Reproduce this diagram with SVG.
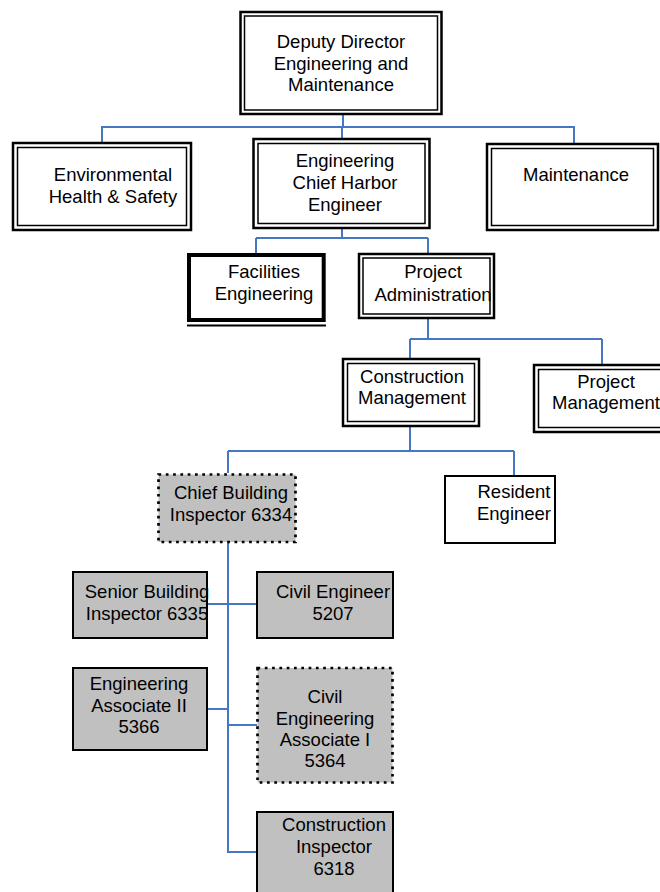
<svg xmlns="http://www.w3.org/2000/svg" width="660" height="892" viewBox="0 0 660 892">
<style>
.o{fill:#fff;stroke:#000;stroke-width:2.5}
.i{fill:none;stroke:#000;stroke-width:1.5}
.g{fill:#c0c0c0;stroke:#000;stroke-width:2}
.d{fill:#c0c0c0;stroke:#000;stroke-width:2.7;stroke-dasharray:2.7 4.6}
.s{fill:#fff;stroke:#000;stroke-width:2}
text{font-family:"Liberation Sans",Arial,sans-serif;font-size:18.5px;fill:#000;text-anchor:middle}
.c{fill:none;stroke:#4577c3;stroke-width:2}
</style>
<g id="connectors">
<path class="c" d="M343,115V127M101,127H575M102,127V142M342,127V138M574,127V143"/>
<path class="c" d="M342,229V238M256,238H428M256,238V253M428,238V253"/>
<path class="c" d="M428,319V339M410,339H602M410,339V358M602,339V364"/>
<path class="c" d="M410,427V451M228,451H514M228,451V473M514,451V475"/>
<path class="c" d="M228,543V852H256M208,604H257M208,709H228M228,725H257"/>
</g>
<g id="deputy-director">
<rect class="o" x="240.5" y="12" width="201" height="102"/>
<rect class="i" x="244.5" y="16" width="193" height="94"/>
<text x="341" y="48">Deputy Director</text>
<text x="341" y="70">Engineering and</text>
<text x="341" y="91">Maintenance</text>
</g>
<g id="environmental">
<rect class="o" x="13" y="143" width="178" height="87"/>
<rect class="i" x="17.5" y="147.5" width="169" height="78"/>
<text x="113" y="181">Environmental</text>
<text x="113" y="203">Health &amp; Safety</text>
</g>
<g id="engineering">
<rect class="o" x="253.5" y="139" width="176" height="89"/>
<rect class="i" x="258" y="143.5" width="167" height="80"/>
<text x="345" y="167">Engineering</text>
<text x="345" y="189">Chief Harbor</text>
<text x="345" y="211">Engineer</text>
</g>
<g id="maintenance">
<rect class="o" x="487" y="144" width="171" height="86"/>
<rect class="i" x="491.5" y="148.5" width="162" height="77"/>
<text x="576" y="181">Maintenance</text>
</g>
<g id="facilities">
<rect fill="#fff" stroke="#000" stroke-width="4" x="189" y="255" width="134.7" height="65"/>
<path d="M187,325.5H326" stroke="#000" stroke-width="2"/>
<text x="264" y="278">Facilities</text>
<text x="264" y="300">Engineering</text>
</g>
<g id="project-administration">
<rect class="o" x="359" y="254" width="135" height="64"/>
<rect class="i" x="363" y="258" width="127" height="56"/>
<text x="433" y="278">Project</text>
<text x="433" y="301">Administration</text>
</g>
<g id="construction-management">
<rect class="o" x="343" y="359" width="136" height="67"/>
<rect class="i" x="347.5" y="363.5" width="127" height="58"/>
<text x="412" y="383">Construction</text>
<text x="412" y="404">Management</text>
</g>
<g id="project-management">
<rect class="o" x="534" y="365" width="132" height="67"/>
<rect class="i" x="538.5" y="369.5" width="130" height="58"/>
<text x="606" y="388">Project</text>
<text x="606" y="409">Management</text>
</g>
<g id="chief-building-inspector">
<rect class="d" x="158.5" y="474.5" width="137" height="67.5"/>
<text x="231" y="499">Chief Building</text>
<text x="231" y="521">Inspector 6334</text>
</g>
<g id="resident-engineer">
<rect class="s" x="445" y="476" width="110" height="67"/>
<text x="514" y="498">Resident</text>
<text x="514" y="520">Engineer</text>
</g>
<g id="senior-building-inspector">
<rect class="g" x="73" y="572" width="134" height="66"/>
<text x="147" y="598">Senior Building</text>
<text x="147" y="620">Inspector 6335</text>
</g>
<g id="civil-engineer">
<rect class="g" x="257" y="572" width="136" height="66"/>
<text x="333" y="598">Civil Engineer</text>
<text x="333" y="620">5207</text>
</g>
<g id="engineering-associate-ii">
<rect class="g" x="73" y="668" width="134" height="82"/>
<text x="139" y="690">Engineering</text>
<text x="139" y="712">Associate II</text>
<text x="139" y="733">5366</text>
</g>
<g id="civil-engineering-associate-i">
<rect class="d" x="257.5" y="668" width="135" height="114.5"/>
<text x="325" y="703">Civil</text>
<text x="325" y="725">Engineering</text>
<text x="325" y="746">Associate I</text>
<text x="325" y="767">5364</text>
</g>
<g id="construction-inspector">
<rect class="g" x="257" y="812" width="136" height="90"/>
<text x="334" y="831">Construction</text>
<text x="334" y="853">Inspector</text>
<text x="334" y="875">6318</text>
</g>
</svg>
